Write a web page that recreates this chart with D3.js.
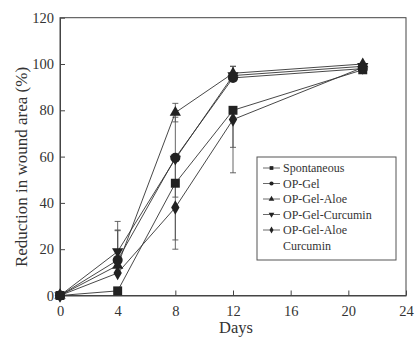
<!DOCTYPE html>
<html><head><meta charset="utf-8">
<script src="https://cdn.jsdelivr.net/npm/d3@7"></script>
<style>body{margin:0;background:#fff}svg{display:block}text{font-family:"Liberation Serif","DejaVu Serif",serif;fill:#333}</style>
</head><body><svg id="c" width="416" height="340"></svg>
<script>
const days = [0, 4, 8, 12, 21];
const seriesNames = ["Spontaneous", "OP-Gel", "OP-Gel-Aloe", "OP-Gel-Curcumin", "OP-Gel-Aloe\nCurcumin"];
const spontaneous = [0, 2, 48.5, 80, 97.5];
const opGel = [0, 15.3, 59.5, 94, 98];
const opGelAloe = [0, 13, 79, 96, 100];
const opGelCurcumin = [0, 19, 59, 95, 99];
const opGelAloeCurcumin = [0, 9.7, 38, 76, 98.5];
// error bar extents (lower, upper) as value offsets
const errLow = [[0,0,28.5,27,0],[0,0,17,0,0],[0,0,4,0,0],[0,0,0,0,0],[0,0,14,12,0]];
const errHigh = [[0,0,28.5,0,0],[0,13,0,0,0],[0,15,4,3,0],[0,13,0,4,0],[0,0,0,0,0]];
const xTicks = [0, 4, 8, 12, 16, 20, 24];
const yTicks = [0, 20, 40, 60, 80, 100, 120];
const symbols = ["square", "circle", "triangle", "triangleDown", "diamond"];

const svg = d3.select("#c");
const x = d3.scaleLinear().domain([0, 24]).range([60, 406]);
const y = d3.scaleLinear().domain([0, 120]).range([295.5, 17.7]);
const data = [spontaneous, opGel, opGelAloe, opGelCurcumin, opGelAloeCurcumin];
const col = "#222";

// frame
svg.append("rect").attr("x", 60).attr("y", 17.7).attr("width", 346).attr("height", 277.8)
  .attr("fill", "none").attr("stroke", "#444").attr("stroke-width", 1);

const xa = svg.append("g").attr("transform", "translate(0,295.5)")
  .call(d3.axisBottom(x).tickValues(xTicks).tickSizeInner(-5).tickSizeOuter(0).tickPadding(10));
const ya = svg.append("g").attr("transform", "translate(60,0)")
  .call(d3.axisLeft(y).tickValues(yTicks).tickSizeInner(-5).tickSizeOuter(0).tickPadding(6));
[xa, ya].forEach(a => {
  a.attr("font-family", null);
  a.select(".domain").attr("stroke", "#444");
  a.selectAll(".tick line").attr("stroke", "#444");
  a.selectAll("text").attr("font-size", 14.5).attr("fill", "#333");
});

svg.append("text").attr("x", 236).attr("y", 333).attr("text-anchor", "middle")
  .attr("font-size", 16.5).text("Days");
svg.append("text").attr("transform", "translate(27,167) rotate(-90)").attr("text-anchor", "middle")
  .attr("font-size", 17).attr("fill", "#444").text("Reduction in wound area (%)");

function symPath(s, size) {
  const t = {square: d3.symbolSquare, circle: d3.symbolCircle, triangle: d3.symbolTriangle,
    triangleDown: d3.symbolTriangle, diamond: d3.symbolDiamond}[s];
  return d3.symbol().type(t).size(size)();
}

// error bars
data.forEach((vals, si) => {
  vals.forEach((v, i) => {
    const lo = v - errLow[si][i], hi = v + errHigh[si][i];
    if (lo === hi) return;
    svg.append("line").attr("x1", x(days[i])).attr("x2", x(days[i]))
      .attr("y1", y(lo)).attr("y2", y(hi)).attr("stroke", "#555").attr("stroke-width", 0.9);
    [lo, hi].forEach(e => { if (e !== v) svg.append("line").attr("x1", x(days[i]) - 3).attr("x2", x(days[i]) + 3)
      .attr("y1", y(e)).attr("y2", y(e)).attr("stroke", "#555").attr("stroke-width", 0.9); });
  });
});

const line = d3.line().x((d, i) => x(days[i])).y(d => y(d));
data.forEach((vals, si) => {
  svg.append("path").attr("d", line(vals)).attr("fill", "none").attr("stroke", "#333").attr("stroke-width", 0.9);
});
const sizes = [80, 80, 55, 55, 60];
data.forEach((vals, si) => {
  vals.forEach((v, i) => {
    svg.append("path").attr("d", symPath(symbols[si], sizes[si]))
      .attr("transform", `translate(${x(days[i])},${y(v)})` + (symbols[si] === "triangleDown" ? " rotate(180)" : ""))
      .attr("fill", col);
  });
});

// legend
const lg = svg.append("g");
lg.append("rect").attr("x", 257).attr("y", 157).attr("width", 139).attr("height", 103)
  .attr("fill", "#fff").attr("stroke", "#555").attr("stroke-width", 1);
const rowY = [168, 183.5, 199, 214.5, 230];
seriesNames.forEach((n, si) => {
  const yy = rowY[si];
  lg.append("line").attr("x1", 263).attr("x2", 280).attr("y1", yy).attr("y2", yy).attr("stroke", "#444").attr("stroke-width", 0.8);
  lg.append("path").attr("d", symPath(symbols[si], 14))
    .attr("transform", `translate(271.5,${yy})` + (symbols[si] === "triangleDown" ? " rotate(180)" : "")).attr("fill", col);
  n.split("\n").forEach((part, k) => {
    lg.append("text").attr("x", 283).attr("y", yy + 4 + k * 15.5).attr("font-size", 12).text(part);
  });
});
</script></body></html>
